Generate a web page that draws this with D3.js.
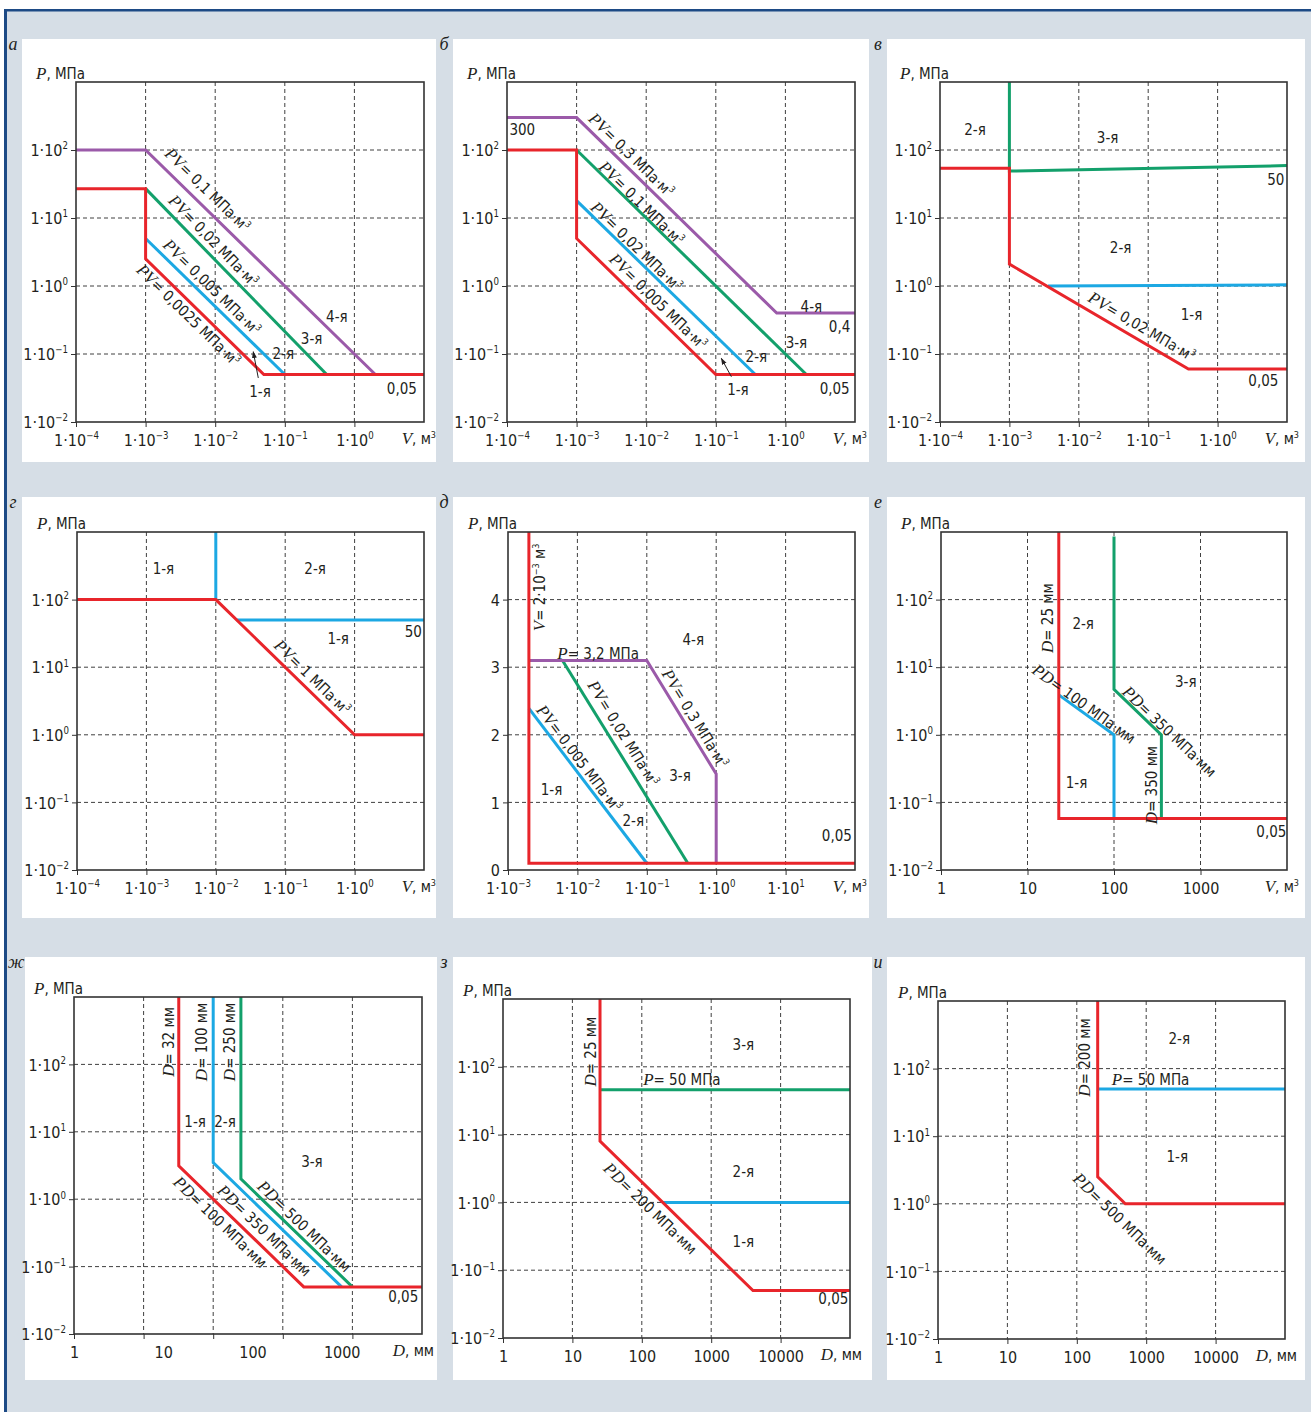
<!DOCTYPE html>
<html>
<head>
<meta charset="utf-8">
<script src="https://cdn.jsdelivr.net/npm/d3@7"></script>
<style>
  body { margin: 0; background: #fff; }
  svg { display: block; }
  text { font-family: "Liberation Sans Narrow", "DejaVu Sans Condensed", "Liberation Sans", sans-serif; font-size: 15px; fill: #231f20; }
  .tick text { font-size: 16px; }
  .var { font-family: "Liberation Serif", serif; font-style: italic; font-size: 17px; }
  .letter { font-family: "Liberation Serif", serif; font-style: italic; font-size: 18px; }
</style>
</head>
<body>
<script>
// Pressure / volume (diameter) category diagrams, 9 panels

const RED = "#e8252b", GREEN = "#13a06b", BLUE = "#1ca8e3", PURPLE = "#9b5aa9";

// tick values
const vTicks4 = [1e-4, 1e-3, 1e-2, 1e-1, 1];
const vGrid4 = [1e-3, 1e-2, 1e-1, 1];
const vTicks3 = [1e-3, 1e-2, 1e-1, 1, 10];
const vGrid3 = [1e-2, 1e-1, 1, 10];
const pTicks = [1e-2, 1e-1, 1, 10, 100];
const pGrid = [1e-1, 1, 10, 100];
const linTicks = [0, 1, 2, 3, 4];
const linGrid = [1, 2, 3, 4];
const dTicks4 = [1, 10, 100, 1000];
const dGrid4 = [10, 100, 1000];
const dTicks5 = [1, 10, 100, 1000, 10000];
const dGrid5 = [10, 100, 1000, 10000];

// panel а  [V, P]
const aPurple = [[1e-4, 100], [1e-3, 100], [2, 0.05]];
const aRed = [[1e-4, 27], [1e-3, 27], [1e-3, 2.5], [0.05, 0.05], [10, 0.05]];
const aGreen = [[1e-3, 27], [0.4, 0.05]];
const aBlue = [[1e-3, 5], [0.1, 0.05]];
const aArrow = [[0.0416, 0.0444], [0.0352, 0.108]];
const aLabels = [
  { t: "*PV*= 0,1 МПа·м^3", x: 7.7e-3, y: 25.8, on: aPurple, seg: 1 },
  { t: "*PV*= 0,02 МПа·м^3", x: 9.4e-3, y: 4.6, on: aGreen, seg: 0 },
  { t: "*PV*= 0,005 МПа·м^3", x: 8.9e-3, y: 0.96, on: aBlue, seg: 0 },
  { t: "*PV*= 0,0025 МПа·м^3", x: 4.1e-3, y: 0.37, on: aRed, seg: 2 },
  { t: "4-я", x: 0.56, y: 0.354 },
  { t: "3-я", x: 0.243, y: 0.17 },
  { t: "2-я", x: 0.095, y: 0.102 },
  { t: "1-я", x: 0.044, y: 0.028 },
  { t: "0,05", x: 4.8, y: 0.031 }
];

// panel б
const bPurple = [[1e-4, 300], [1e-3, 300], [0.75, 0.4], [10, 0.4]];
const bRed = [[1e-4, 100], [1e-3, 100], [1e-3, 5], [0.1, 0.05], [10, 0.05]];
const bGreen = [[1e-3, 100], [2, 0.05]];
const bBlue = [[1e-3, 18], [0.37, 0.05]];
const bArrow = [[0.1675, 0.0463], [0.12, 0.0865]];
const bLabels = [
  { t: "300", x: 1.66e-4, y: 201 },
  { t: "*PV*= 0,3 МПа·м^3", x: 6.1e-3, y: 84, on: bPurple, seg: 1 },
  { t: "*PV*= 0,1 МПа·м^3", x: 8.5e-3, y: 16.4, on: bGreen, seg: 0 },
  { t: "*PV*= 0,02 МПа·м^3", x: 7.2e-3, y: 3.8, on: bBlue, seg: 0 },
  { t: "*PV*= 0,005 МПа·м^3", x: 0.0148, y: 0.59, on: bRed, seg: 2 },
  { t: "4-я", x: 2.36, y: 0.5 },
  { t: "0,4", x: 6.0, y: 0.252 },
  { t: "3-я", x: 1.44, y: 0.144 },
  { t: "2-я", x: 0.383, y: 0.091 },
  { t: "1-я", x: 0.208, y: 0.0296 },
  { t: "0,05", x: 5.1, y: 0.0313 }
];

// panel в
const cRed = [[1e-4, 54], [1e-3, 54], [1e-3, 2.1], [0.38, 0.06], [10, 0.06]];
const cGreen = [[1e-3, 1000], [1e-3, 49], [10, 59]];
const cBlue = [[0.0036, 1], [10, 1.04]];
const cLabels = [
  { t: "2-я", x: 3.2e-4, y: 197 },
  { t: "3-я", x: 0.026, y: 149 },
  { t: "50", x: 6.9, y: 37 },
  { t: "2-я", x: 0.040, y: 3.7 },
  { t: "1-я", x: 0.42, y: 0.375 },
  { t: "*PV*= 0,02 МПа·м^3", x: 0.0805, y: 0.252, on: cRed, seg: 2 },
  { t: "0,05", x: 4.56, y: 0.0405 }
];

// panel г
const dRed = [[1e-4, 100], [1e-2, 100], [1, 1], [10, 1]];
const dBlueV = [[1e-2, 1000], [1e-2, 100]];
const dBlueH = [[0.02, 50], [10, 50]];
const dLabels = [
  { t: "1-я", x: 1.76e-3, y: 288 },
  { t: "2-я", x: 0.27, y: 288 },
  { t: "1-я", x: 0.58, y: 26.6 },
  { t: "50", x: 7, y: 33.3 },
  { t: "*PV*= 1 МПа·м^3", x: 0.245, y: 7.07, on: dRed, seg: 1 }
];

// panel д (linear P)
const eRed = [[2e-3, 5], [2e-3, 0.1], [100, 0.1]];
const ePurple = [[2e-3, 3.1], [0.1, 3.1], [1, 1.42], [1, 0.1]];
const eGreen = [[6.1e-3, 3.1], [0.39, 0.1]];
const eBlue = [[2e-3, 2.39], [0.1, 0.1]];
const eLabels = [
  { t: "*V*= 2·10^−3 м^3", x: 2.86e-3, y: 4.18, rot: -90 },
  { t: "*P*= 3,2 МПа", x: 0.0199, y: 3.2 },
  { t: "4-я", x: 0.468, y: 3.4 },
  { t: "*PV*= 0,02 МПа·м^3", x: 0.0456, y: 2.02, on: eGreen, seg: 0 },
  { t: "*PV*= 0,3 МПа·м^3", x: 0.494, y: 2.24, on: ePurple, seg: 1 },
  { t: "*PV*= 0,005 МПа·м^3", x: 0.0105, y: 1.65, on: eBlue, seg: 0 },
  { t: "1-я", x: 4.23e-3, y: 1.19 },
  { t: "2-я", x: 0.0637, y: 0.73 },
  { t: "3-я", x: 0.301, y: 1.39 },
  { t: "0,05", x: 54.8, y: 0.50 }
];

// panel е
const fRed = [[23, 1000], [23, 0.058], [10000, 0.058]];
const fBlue = [[23, 3.9], [100, 1], [100, 0.058]];
const fGreen = [[100, 860], [100, 4.7], [353, 1], [353, 0.058]];
const fLabels = [
  { t: "*D*= 25 мм", x: 17.3, y: 53, rot: -90 },
  { t: "2-я", x: 44, y: 43.3 },
  { t: "3-я", x: 675, y: 6.1 },
  { t: "*PD*= 100 МПа·мм", x: 44.8, y: 2.85, on: fBlue, seg: 0 },
  { t: "*PD*= 350 МПа·мм", x: 435, y: 1.11, on: fGreen, seg: 1 },
  { t: "*D*= 350 мм", x: 271, y: 0.18, rot: -90 },
  { t: "1-я", x: 36.9, y: 0.192 },
  { t: "0,05", x: 6590, y: 0.037 }
];

// panel ж
const gRed = [[32, 1000], [32, 3.125], [2000, 0.05], [100000, 0.05]];
const gBlue = [[100, 1000], [100, 3.5], [7000, 0.05]];
const gGreen = [[250, 1000], [250, 2], [10000, 0.05]];
const gLabels = [
  { t: "*D*= 32 мм", x: 22.7, y: 215, rot: -90 },
  { t: "*D*= 100 мм", x: 68.6, y: 215, rot: -90 },
  { t: "*D*= 250 мм", x: 171, y: 215, rot: -90 },
  { t: "1-я", x: 55, y: 14.1 },
  { t: "2-я", x: 148, y: 14.1 },
  { t: "3-я", x: 2620, y: 3.59 },
  { t: "*PD*= 100 МПа·мм", x: 126, y: 0.455, on: gRed, seg: 1 },
  { t: "*PD*= 350 МПа·мм", x: 540, y: 0.341, on: gBlue, seg: 1 },
  { t: "*PD*= 500 МПа·мм", x: 2030, y: 0.392, on: gGreen, seg: 1 },
  { t: "0,05", x: 53800, y: 0.036 }
];

// panel з
const hRed = [[25, 1000], [25, 8], [4000, 0.05], [100000, 0.05]];
const hGreen = [[25, 46], [100000, 46]];
const hBlue = [[200, 1], [100000, 1]];
const hLabels = [
  { t: "*D*= 25 мм", x: 18.1, y: 167, rot: -90 },
  { t: "3-я", x: 2910, y: 209 },
  { t: "*P*= 50 МПа", x: 378, y: 63.7 },
  { t: "2-я", x: 2910, y: 2.82 },
  { t: "*PD*= 200 МПа·мм", x: 132, y: 0.81, on: hRed, seg: 1 },
  { t: "1-я", x: 2910, y: 0.261 },
  { t: "0,05", x: 57500, y: 0.038 }
];

// panel и
const iRed = [[200, 1000], [200, 2.5], [500, 1], [100000, 1]];
const iBlue = [[200, 50], [100000, 50]];
const iLabels = [
  { t: "*D*= 200 мм", x: 130.6, y: 146, rot: -90 },
  { t: "2-я", x: 2990, y: 281 },
  { t: "*P*= 50 МПа", x: 1156, y: 67.8 },
  { t: "1-я", x: 2800, y: 5 },
  { t: "*PD*= 500 МПа·мм", x: 417, y: 0.596, on: iRed, seg: 1 }
];

const pow10 = v => "1·10^" + String(Math.round(Math.log10(v))).replace("-", "−");
const plain = v => String(v);

const W = 1311, H = 1412, FS = 15;

const svg = d3.select("body").append("svg")
  .attr("width", W)
  .attr("height", H);

svg.append("rect").attr("width", W).attr("height", H).attr("fill", "#fff");
svg.append("rect").attr("x", 4).attr("y", 9).attr("width", W - 4).attr("height", H - 9).attr("fill", "#d6dee6");
svg.append("rect").attr("x", 4).attr("y", 9).attr("width", W - 4).attr("height", 2.5).attr("fill", "#1d4a85");
svg.append("rect").attr("x", 4).attr("y", 9).attr("width", 3).attr("height", H - 9).attr("fill", "#1d4a85");

svg.append("defs").append("marker")
  .attr("id", "arrow")
  .attr("viewBox", "0 0 10 10")
  .attr("refX", 9).attr("refY", 5)
  .attr("markerWidth", 7).attr("markerHeight", 7)
  .attr("orient", "auto")
  .append("path")
  .attr("d", "M0,1.5L10,5L0,8.5Z")
  .attr("fill", "#231f20");

// writes "*italic*", "^sup" pieces as tspans
function rich(sel, str, fs = FS) {
  const parts = str.split(/(\*[^*]+\*|\^[^\s·]+)/).filter(s => s.length);
  let up = false;
  for (const s of parts) {
    const ts = sel.append("tspan");
    if (s[0] === "^") {
      ts.text(s.slice(1)).attr("font-size", fs * 0.6).attr("dy", -fs * 0.42);
      up = true;
      continue;
    }
    if (up) { ts.attr("dy", fs * 0.42); up = false; }
    if (s[0] === "*") ts.attr("class", "var").text(s.slice(1, -1));
    else ts.text(s);
  }
}

function drawPanel(p) {
  const [cx0, cy0, cx1, cy1] = p.card;
  const [l, t, r, b] = p.frame;
  const g = svg.append("g");

  g.append("rect")
    .attr("x", cx0).attr("y", cy0)
    .attr("width", cx1 - cx0).attr("height", cy1 - cy0)
    .attr("fill", "#fff");

  g.append("text")
    .attr("class", "letter")
    .attr("x", cx0 - 9).attr("y", cy0 + 11)
    .attr("text-anchor", "middle")
    .text(p.letter);

  const x = (p.xLog ? d3.scaleLog() : d3.scaleLinear()).domain(p.xDomain).range([l, r]);
  const y = (p.yLog ? d3.scaleLog() : d3.scaleLinear()).domain(p.yDomain).range([b, t]);

  // dashed grid
  const grid = g.append("g")
    .attr("stroke", "#2a2a2a")
    .attr("stroke-width", 0.9)
    .attr("stroke-dasharray", "4,3");
  grid.selectAll(".gx").data(p.xGrid).join("line")
    .attr("x1", d => x(d)).attr("x2", d => x(d))
    .attr("y1", t).attr("y2", b);
  grid.selectAll(".gy").data(p.yGrid).join("line")
    .attr("x1", l).attr("x2", r)
    .attr("y1", d => y(d)).attr("y2", d => y(d));

  // tick marks
  const tx = g.append("g")
    .attr("transform", `translate(0,${b})`)
    .call(d3.axisBottom(x).tickValues(p.xTickMarks || p.xTicks).tickSize(5).tickFormat(""));
  const ty = g.append("g")
    .attr("transform", `translate(${l},0)`)
    .call(d3.axisLeft(y).tickValues(p.yTicks).tickSize(5).tickFormat(""));
  [tx, ty].forEach(a => {
    a.select(".domain").remove();
    a.selectAll("line").attr("stroke", "#333");
  });

  // tick labels
  const xl = p.xLabelDomain ? d3.scaleLog().domain(p.xLabelDomain).range([l, r]) : x;
  const lx = g.append("g")
    .attr("transform", `translate(0,${b})`)
    .call(d3.axisBottom(xl).tickValues(p.xTicks).tickSize(0).tickFormat(p.xFmt));
  const ly = g.append("g")
    .attr("transform", `translate(${l},0)`)
    .call(d3.axisLeft(y).tickValues(p.yTicks).tickSize(0).tickFormat(p.yFmt));
  [lx, ly].forEach(a => {
    a.attr("font-size", null).attr("font-family", null);
    a.select(".domain").remove();
    a.selectAll("line").remove();
    a.selectAll("text").each(function (d) {
      const s = d3.select(this);
      const str = s.text();
      s.text(null);
      rich(s, str, 16);
    });
  });
  lx.selectAll("text").attr("y", 24).attr("dy", null);
  ly.selectAll("text").attr("x", -8).attr("dy", "0.35em");

  // series
  const line = d3.line().x(d => x(d[0])).y(d => y(d[1]));
  g.append("g")
    .attr("fill", "none")
    .attr("stroke-width", 3)
    .selectAll("path")
    .data(p.series)
    .join("path")
    .attr("d", d => line(d.pts))
    .attr("stroke", d => d.color);

  // frame
  g.append("rect")
    .attr("x", l).attr("y", t)
    .attr("width", r - l).attr("height", b - t)
    .attr("fill", "none")
    .attr("stroke", "#333")
    .attr("stroke-width", 1.6);

  // axis titles
  rich(g.append("text").attr("x", l - 40).attr("y", t - 3), "*P*, МПа");
  rich(g.append("text").attr("x", r + 12).attr("y", b + 22).attr("text-anchor", "end"), p.xTitle);

  // labels in the plot
  for (const lab of p.labels) {
    let ang = lab.rot || 0;
    if (lab.on) {
      const p1 = lab.on[lab.seg], p2 = lab.on[lab.seg + 1];
      ang = Math.atan2(y(p2[1]) - y(p1[1]), x(p2[0]) - x(p1[0])) * 180 / Math.PI;
    }
    const txt = g.append("text")
      .attr("transform", `translate(${x(lab.x)},${y(lab.y)}) rotate(${ang})`)
      .attr("text-anchor", "middle")
      .attr("dy", "0.35em");
    rich(txt, lab.t);
  }

  if (p.arrow) {
    g.append("line")
      .attr("x1", x(p.arrow[0][0])).attr("y1", y(p.arrow[0][1]))
      .attr("x2", x(p.arrow[1][0])).attr("y2", y(p.arrow[1][1]))
      .attr("stroke", "#231f20")
      .attr("stroke-width", 1)
      .attr("marker-end", "url(#arrow)");
  }
}

const logP = { yLog: true, yDomain: [1e-2, 1e3], yTicks: pTicks, yGrid: pGrid, yFmt: pow10 };
const logV4 = { xLog: true, xDomain: [1e-4, 10], xTicks: vTicks4, xGrid: vGrid4, xFmt: pow10, xTitle: "*V*, м^3" };

const panels = [
  { letter: "а", card: [22, 39, 436, 462], frame: [76, 82, 424, 422], ...logV4, ...logP,
    series: [{ pts: aPurple, color: PURPLE }, { pts: aGreen, color: GREEN }, { pts: aBlue, color: BLUE }, { pts: aRed, color: RED }],
    labels: aLabels, arrow: aArrow },
  { letter: "б", card: [453, 39, 869, 462], frame: [507, 82, 855, 422], ...logV4, ...logP,
    series: [{ pts: bPurple, color: PURPLE }, { pts: bGreen, color: GREEN }, { pts: bBlue, color: BLUE }, { pts: bRed, color: RED }],
    labels: bLabels, arrow: bArrow },
  { letter: "в", card: [887, 39, 1305, 462], frame: [940, 82, 1287, 422], ...logV4, ...logP,
    series: [{ pts: cGreen, color: GREEN }, { pts: cBlue, color: BLUE }, { pts: cRed, color: RED }],
    labels: cLabels },
  { letter: "г", card: [22, 497, 436, 918], frame: [77, 532, 424, 870], ...logV4, ...logP,
    series: [{ pts: dBlueV, color: BLUE }, { pts: dBlueH, color: BLUE }, { pts: dRed, color: RED }],
    labels: dLabels },
  { letter: "д", card: [453, 497, 869, 918], frame: [508, 532, 855, 870],
    xLog: true, xDomain: [1e-3, 100], xTicks: vTicks3, xGrid: vGrid3, xFmt: pow10, xTitle: "*V*, м^3",
    yLog: false, yDomain: [0, 5], yTicks: linTicks, yGrid: linGrid, yFmt: plain,
    series: [{ pts: eBlue, color: BLUE }, { pts: eGreen, color: GREEN }, { pts: ePurple, color: PURPLE }, { pts: eRed, color: RED }],
    labels: eLabels },
  { letter: "е", card: [887, 497, 1305, 918], frame: [941, 532, 1287, 870], ...logP,
    xLog: true, xDomain: [1, 1e4], xTicks: dTicks4, xGrid: dGrid4, xFmt: plain, xTitle: "*V*, м^3",
    series: [{ pts: fGreen, color: GREEN }, { pts: fBlue, color: BLUE }, { pts: fRed, color: RED }],
    labels: fLabels },
  { letter: "ж", card: [25, 957, 437, 1380], frame: [74, 997, 422, 1334], ...logP,
    xLog: true, xDomain: [1, 1e5], xTicks: dTicks4, xTickMarks: dTicks5, xLabelDomain: [1, 7943],
    xGrid: dGrid5, xFmt: plain, xTitle: "*D*, мм",
    series: [{ pts: gGreen, color: GREEN }, { pts: gBlue, color: BLUE }, { pts: gRed, color: RED }],
    labels: gLabels },
  { letter: "з", card: [453, 957, 872, 1380], frame: [503, 999, 850, 1338], ...logP,
    xLog: true, xDomain: [1, 1e5], xTicks: dTicks5, xGrid: dGrid5, xFmt: plain, xTitle: "*D*, мм",
    series: [{ pts: hGreen, color: GREEN }, { pts: hBlue, color: BLUE }, { pts: hRed, color: RED }],
    labels: hLabels },
  { letter: "и", card: [887, 957, 1305, 1380], frame: [938, 1001, 1285, 1339], ...logP,
    xLog: true, xDomain: [1, 1e5], xTicks: dTicks5, xGrid: dGrid5, xFmt: plain, xTitle: "*D*, мм",
    series: [{ pts: iBlue, color: BLUE }, { pts: iRed, color: RED }],
    labels: iLabels }
];

panels.forEach(drawPanel);
</script>
</body>
</html>
